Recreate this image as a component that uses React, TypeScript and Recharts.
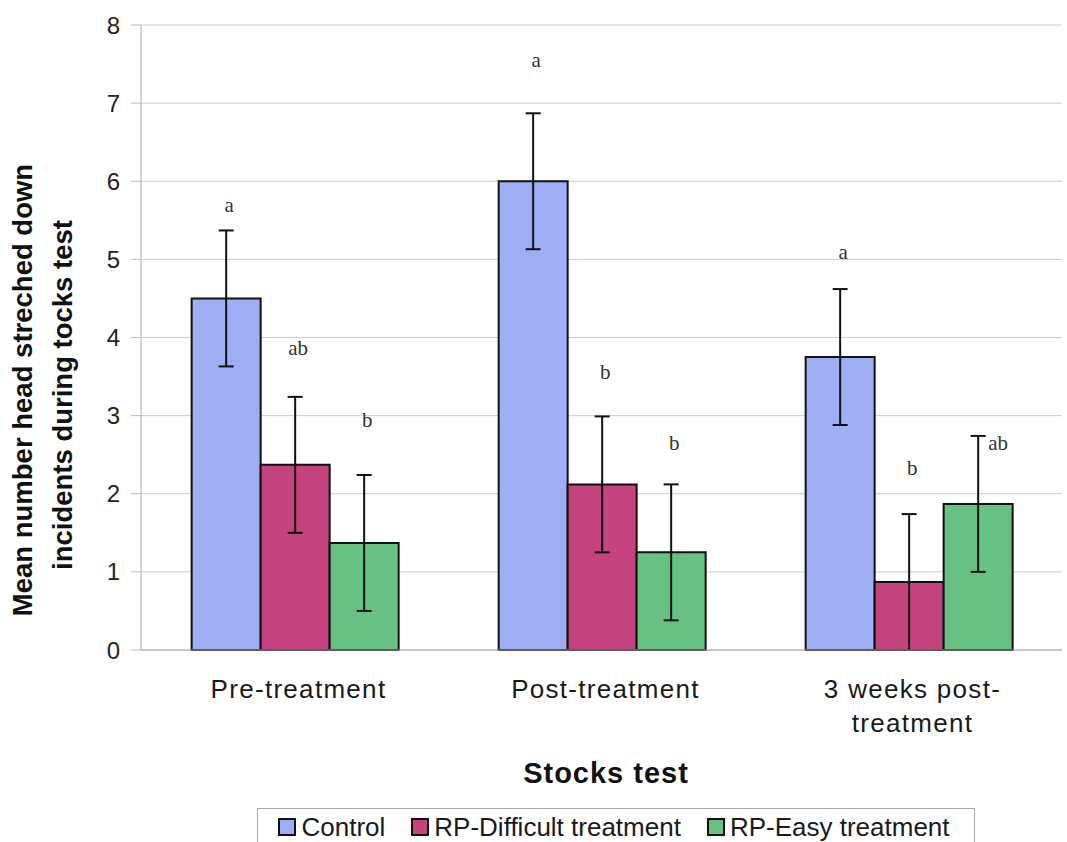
import React from 'react';
import { BarChart, Bar, XAxis, YAxis, CartesianGrid, ErrorBar, LabelList, Legend } from 'recharts';

// stages of the stocks test
const stages = ['Pre-treatment', 'Post-treatment', '3 weeks post-treatment'];
const stageLines = [['Pre-treatment'], ['Post-treatment'], ['3 weeks post-', 'treatment']];

// means
const controlMeans = [4.5, 6.0, 3.75];
const difficultMeans = [2.37, 2.12, 0.87];
const easyMeans = [1.37, 1.25, 1.87];

// error (+/-)
const controlErr = [0.87, 0.87, 0.87];
const difficultErr = [0.87, 0.87, 0.87];
const easyErr = [0.87, 0.87, 0.87];

// significance letters and the height they sit at
const controlLetters = ['a', 'a', 'a'];
const difficultLetters = ['ab', 'b', 'b'];
const easyLetters = ['b', 'b', 'ab'];
const controlLetterAt = [5.7, 7.55, 5.1];
const difficultLetterAt = [3.87, 3.56, 2.33];
const easyLetterAt = [2.95, 2.65, 2.65];

const yTicks = [0, 1, 2, 3, 4, 5, 6, 7, 8];

const seriesNames = ['Control', 'RP-Difficult treatment', 'RP-Easy treatment'];
const COLORS = ['#9DAEF4', '#C4437E', '#67C183'];

const data = stages.map((s, i) => ({
  stage: s,
  control: controlMeans[i],
  difficult: difficultMeans[i],
  easy: easyMeans[i],
  controlErr: controlErr[i],
  difficultErr: difficultErr[i],
  easyErr: easyErr[i],
}));

const SANS = '"Liberation Sans", Arial, sans-serif';

const makeLetter = (letters: string[], heights: number[], means: number[], errs: number[]) => (props: any) => {
  const { index } = props;
  const vb = props.viewBox || props;
  const x = vb.x;
  const y = vb.y;
  const w = vb.width;
  const h = Math.abs(vb.height);
  const mean = means[index];
  if (!mean || index == null) return null;
  const base = y + h;
  const ppu = h / mean;
  const ly = base - heights[index] * ppu;
  // nudge right when the letter would sit on the error bar
  const onBar = heights[index] > mean - errs[index] && heights[index] < mean + errs[index];
  const lx = x + w / 2 + (onBar ? 20 : 3);
  return (
    <text x={lx} y={ly} textAnchor="middle" dominantBaseline="central"
      fontFamily='"Liberation Serif", "Times New Roman", serif' fontSize={21} fill="#333">
      {letters[index]}
    </text>
  );
};

const StageTick = (props: any) => {
  const { x, y, index } = props;
  const lines = stageLines[index] || [props.payload?.value];
  return (
    <g>
      {lines.map((l: string, i: number) => (
        <text key={i} x={x + 4} y={y + 48} dy={i * 34} textAnchor="middle" fontFamily={SANS}
          fontSize={26} letterSpacing={1.3} fill="#1a1a1a">
          {l}
        </text>
      ))}
    </g>
  );
};

const renderLegend = () => (
  <div style={{
    border: '1px solid #a8a8a8', height: 38, boxSizing: 'border-box', display: 'flex',
    alignItems: 'center', justifyContent: 'center', gap: 26, fontFamily: SANS, fontSize: 26,
    color: '#1a1a1a', background: '#fff', paddingRight: 4,
  }}>
    {seriesNames.map((n, i) => (
      <div key={n} style={{ display: 'flex', alignItems: 'center' }}>
        <span style={{
          display: 'inline-block', width: 14, height: 14, background: COLORS[i],
          border: '2px solid #111', marginRight: 5,
        }} />
        <span>{n}</span>
      </div>
    ))}
  </div>
);

const YTitle = () => (
  <g fontFamily={SANS} fontWeight="bold" fontSize={27.5} fill="#111">
    <text x={22} y={390} transform="rotate(-90, 22, 390)" textAnchor="middle" dominantBaseline="central">
      Mean number head streched down
    </text>
    <text x={62} y={395} transform="rotate(-90, 62, 395)" textAnchor="middle" dominantBaseline="central">
      incidents during tocks test
    </text>
  </g>
);

const XTitle = (props: any) => {
  const vb = props.viewBox || {};
  return (
    <text x={606} y={(vb.y ?? 650) + 123} textAnchor="middle" dominantBaseline="central"
      fontFamily={SANS} fontWeight="bold" fontSize={29} letterSpacing={1} fill="#111">
      Stocks test
    </text>
  );
};

export default function App() {
  return (
    <div style={{ position: 'absolute', left: 0, top: 0, background: '#fff' }}>
      <BarChart width={1067} height={842} data={data}
        margin={{ top: 25, right: 5, left: 0, bottom: 0 }}
        barCategoryGap="16.5%" barGap={0}>
        <CartesianGrid vertical={false} stroke="#cdcdcd" />
        <XAxis dataKey="stage" height={158} tickLine={false} tickSize={0} tickMargin={0}
          axisLine={{ stroke: '#aaa' }} tick={<StageTick />} interval={0}
          label={{ content: <XTitle /> }} />
        <YAxis domain={[0, 8]} ticks={yTicks} width={141} tickSize={10} tickMargin={11}
          axisLine={{ stroke: '#aaa' }} tickLine={{ stroke: '#bbb' }}
          tick={{ fontFamily: SANS, fontSize: 24, fill: '#222' }}
          label={{ content: <YTitle /> }} />
        <Legend verticalAlign="bottom" height={34} wrapperStyle={{ left: 257, width: 718, bottom: 0 }}
          content={renderLegend} />
        <Bar dataKey="control" name={seriesNames[0]} fill={COLORS[0]} stroke="#111" strokeWidth={2} isAnimationActive={false}>
          <ErrorBar dataKey="controlErr" width={7.5} strokeWidth={2} stroke="#111" direction="y" />
          <LabelList dataKey="control" content={makeLetter(controlLetters, controlLetterAt, controlMeans, controlErr)} />
        </Bar>
        <Bar dataKey="difficult" name={seriesNames[1]} fill={COLORS[1]} stroke="#111" strokeWidth={2} isAnimationActive={false}>
          <ErrorBar dataKey="difficultErr" width={7.5} strokeWidth={2} stroke="#111" direction="y" />
          <LabelList dataKey="difficult" content={makeLetter(difficultLetters, difficultLetterAt, difficultMeans, difficultErr)} />
        </Bar>
        <Bar dataKey="easy" name={seriesNames[2]} fill={COLORS[2]} stroke="#111" strokeWidth={2} isAnimationActive={false}>
          <ErrorBar dataKey="easyErr" width={7.5} strokeWidth={2} stroke="#111" direction="y" />
          <LabelList dataKey="easy" content={makeLetter(easyLetters, easyLetterAt, easyMeans, easyErr)} />
        </Bar>
      </BarChart>
    </div>
  );
}
